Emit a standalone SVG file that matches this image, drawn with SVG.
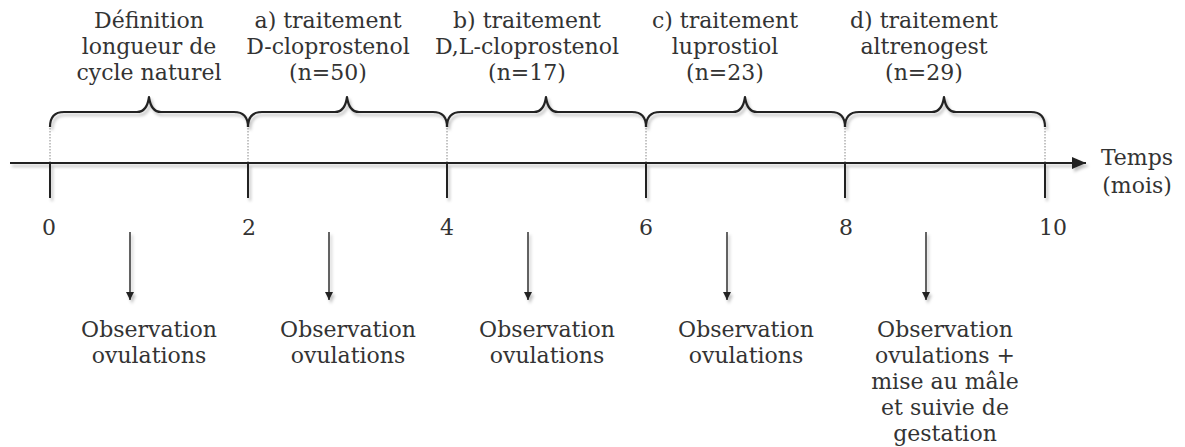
<svg xmlns="http://www.w3.org/2000/svg" width="1185" height="447" viewBox="0 0 1185 447">
<style>
text{font-family:"DejaVu Serif","Liberation Serif",serif;font-size:22px;fill:#333;text-anchor:middle}
.ln{stroke:#222;stroke-width:2;fill:none}
.brace{stroke:#222;stroke-width:2.2;fill:none;stroke-linejoin:round}
.dot{stroke:#888;stroke-width:1;stroke-dasharray:1.5 1.5;fill:none}
.arr{stroke:#222;stroke-width:1.4;fill:none}
</style>
<defs>
<filter id="sh" x="-5%" y="-50%" width="110%" height="250%">
<feDropShadow dx="2" dy="3" stdDeviation="1.5" flood-color="#000" flood-opacity="0.25"/>
</filter>
<marker id="bigHead" viewBox="0 0 14 12" markerWidth="14" markerHeight="12" refX="14" refY="6" orient="auto" markerUnits="userSpaceOnUse">
<path d="M0,0 L14,6 L0,12 z" fill="#222"/>
</marker>
<marker id="smallHead" viewBox="0 0 10 8" markerWidth="10" markerHeight="8" refX="8" refY="4" orient="auto" markerUnits="userSpaceOnUse">
<path d="M0,0 L8,4 L0,8 z" fill="#222"/>
</marker>
</defs>
<rect width="1185" height="447" fill="#fff"/>

<g id="connectors">
<g filter="url(#sh)">
<line class="ln" x1="10" y1="163" x2="1086" y2="163" marker-end="url(#bigHead)"/>
<path class="ln" d="M50,163V198M248,163V198M447,163V198M646,163V198M845,163V198M1045,163V198"/>
<path class="brace" d="M50,127 Q50,112 64,112 L137,112 Q147,112 149,97 Q151,112 161,112 L234,112 Q248,112 248,127"/>
<path class="brace" d="M248,127 Q248,112 262,112 L335,112 Q345,112 347,97 Q349,112 359,112 L433,112 Q447,112 447,127"/>
<path class="brace" d="M447,127 Q447,112 461,112 L534,112 Q544,112 546,97 Q548,112 558,112 L632,112 Q646,112 646,127"/>
<path class="brace" d="M646,127 Q646,112 660,112 L733,112 Q743,112 745,97 Q747,112 757,112 L831,112 Q845,112 845,127"/>
<path class="brace" d="M845,127 Q845,112 859,112 L932,112 Q942,112 944,97 Q946,112 956,112 L1031,112 Q1045,112 1045,127"/>
<line class="arr" x1="130" y1="232" x2="130" y2="300" marker-end="url(#smallHead)"/>
<line class="arr" x1="329" y1="232" x2="329" y2="300" marker-end="url(#smallHead)"/>
<line class="arr" x1="528" y1="232" x2="528" y2="300" marker-end="url(#smallHead)"/>
<line class="arr" x1="727" y1="232" x2="727" y2="300" marker-end="url(#smallHead)"/>
<line class="arr" x1="926" y1="232" x2="926" y2="300" marker-end="url(#smallHead)"/>
</g>
<path class="dot" d="M50,128V162M248,128V162M447,128V162M646,128V162M845,128V162M1045,128V162"/>
</g>

<g id="period-natural">
<text x="149" y="28">Définition</text>
<text x="149" y="54">longueur de</text>
<text x="149" y="80">cycle naturel</text>
</g>
<g id="period-a">
<text x="328" y="28">a) traitement</text>
<text x="328" y="54">D-cloprostenol</text>
<text x="328" y="80">(n=50)</text>
</g>
<g id="period-b">
<text x="527" y="28">b) traitement</text>
<text x="527" y="54">D,L-cloprostenol</text>
<text x="527" y="80">(n=17)</text>
</g>
<g id="period-c">
<text x="725" y="28">c) traitement</text>
<text x="725" y="54">luprostiol</text>
<text x="725" y="80">(n=23)</text>
</g>
<g id="period-d">
<text x="924" y="28">d) traitement</text>
<text x="924" y="54">altrenogest</text>
<text x="924" y="80">(n=29)</text>
</g>

<g id="axis-label">
<text x="1137" y="165">Temps</text>
<text x="1137" y="193">(mois)</text>
</g>

<g id="tick-labels">
<text x="49" y="235">0</text>
<text x="249" y="235">2</text>
<text x="447" y="235">4</text>
<text x="646" y="235">6</text>
<text x="846" y="235">8</text>
<text x="1053" y="235">10</text>
</g>

<g id="obs-1">
<text x="149" y="337">Observation</text>
<text x="149" y="363">ovulations</text>
</g>
<g id="obs-2">
<text x="348" y="337">Observation</text>
<text x="348" y="363">ovulations</text>
</g>
<g id="obs-3">
<text x="547" y="337">Observation</text>
<text x="547" y="363">ovulations</text>
</g>
<g id="obs-4">
<text x="746" y="337">Observation</text>
<text x="746" y="363">ovulations</text>
</g>
<g id="obs-5">
<text x="945" y="337">Observation</text>
<text x="945" y="363">ovulations +</text>
<text x="945" y="389">mise au mâle</text>
<text x="945" y="415">et suivie de</text>
<text x="945" y="441">gestation</text>
</g>
</svg>
